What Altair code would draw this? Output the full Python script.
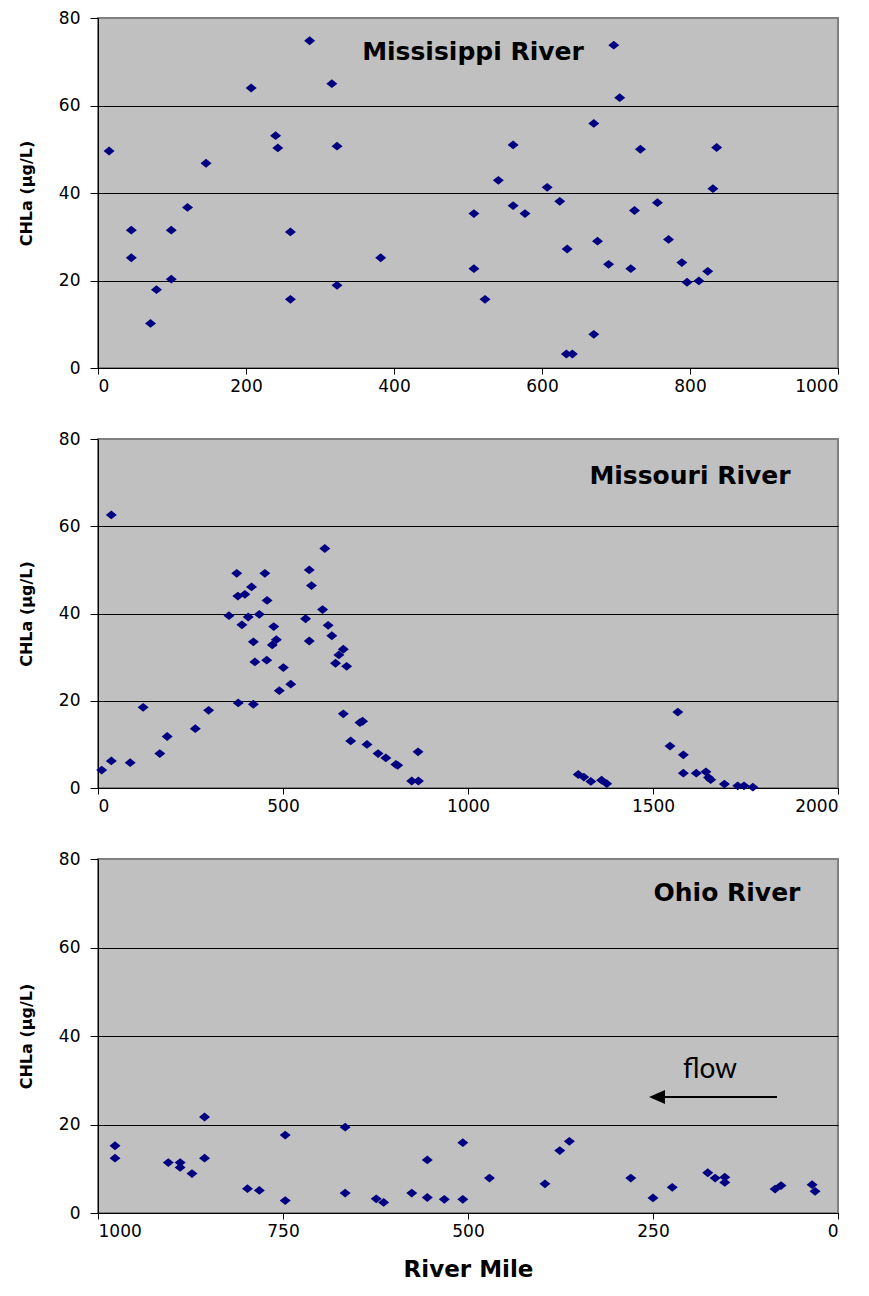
import altair as alt
import pandas as pd

# ---------------- data ----------------
miss_mile = [15, 45, 45, 71, 79, 99, 99, 121, 146, 207, 240, 243, 260, 260, 286, 316, 323, 323, 382,
             508, 508, 523, 541, 561, 561, 577, 607, 624, 634, 633, 641, 670, 670, 675, 690, 697,
             705, 720, 725, 733, 756, 771, 789, 796, 812, 824, 831, 836]
miss_chla = [49.6, 31.5, 25.2, 10.2, 17.9, 31.5, 20.3, 36.7, 46.8, 64.0, 53.1, 50.3, 31.1, 15.7, 74.8,
             65.0, 50.7, 18.9, 25.2, 35.3, 22.7, 15.7, 42.9, 51.0, 37.1, 35.3, 41.3, 38.1, 27.2, 3.2,
             3.2, 55.9, 7.7, 29.0, 23.7, 73.8, 61.8, 22.7, 36.0, 50.0, 37.8, 29.4, 24.1, 19.6, 19.9,
             22.1, 41.0, 50.4]

mo_mile = [10, 36, 36, 87, 122, 167, 187, 263, 299, 354, 375, 379, 378, 397, 389, 406, 415, 420, 420,
           424, 436, 451, 457, 456, 475, 471, 482, 501, 490, 521, 561, 571, 577, 571, 613, 607, 622,
           632, 663, 651, 642, 672, 663, 683, 715, 708, 727, 757, 778, 805, 810, 848, 866, 865,
           1298, 1313, 1332, 1361, 1375, 1546, 1567, 1582, 1582, 1617, 1643, 1656, 1650, 1693, 1729,
           1746, 1770]
mo_chla = [4.1, 62.6, 6.2, 5.8, 18.5, 7.9, 11.8, 13.6, 17.8, 39.5, 49.2, 19.5, 44.0, 44.4, 37.4, 39.2,
           46.1, 33.5, 19.2, 28.9, 39.8, 49.2, 43.0, 29.3, 37.0, 32.8, 34.0, 27.6, 22.3, 23.8, 38.8,
           50.0, 46.4, 33.7, 54.9, 40.9, 37.3, 34.9, 31.8, 30.5, 28.6, 27.9, 17.0, 10.8, 15.3, 15.0,
           10.0, 7.9, 6.9, 5.4, 5.2, 1.6, 1.6, 8.3,
           3.1, 2.5, 1.5, 1.8, 1.0, 9.6, 17.4, 7.6, 3.4, 3.4, 3.7, 1.9, 2.4, 0.9, 0.5, 0.5, 0.2]

oh_mile = [977, 977, 905, 889, 889, 873, 856, 856, 798, 782, 747, 747, 666, 666, 624, 614, 576, 555,
           555, 532, 507, 507, 471, 396, 376, 363, 280, 250, 224, 176, 166, 153, 153, 85, 77, 35, 31]
oh_chla = [15.2, 12.4, 11.4, 11.4, 10.3, 8.9, 21.7, 12.4, 5.5, 5.1, 17.6, 2.8, 19.4, 4.5, 3.2, 2.4,
           4.5, 12.0, 3.5, 3.1, 3.1, 15.9, 7.9, 6.6, 14.1, 16.2, 7.9, 3.4, 5.8, 9.1, 7.9, 8.1, 6.9,
           5.4, 6.2, 6.4, 4.9]

panel_titles = ["Missisippi River", "Missouri River", "Ohio River"]
y_ticks = [0, 20, 40, 60, 80]
miss_xticks = [0, 200, 400, 600, 800, 1000]
mo_xticks = [0, 500, 1000, 1500, 2000]
oh_xticks = [0, 250, 500, 750, 1000]
y_title = "CHLa (µg/L)"
x_title = "River Mile"
flow_label = ["flow"]

# ---------------- styling ----------------
NAVY = "#000080"
DIAMOND = "M-1,0L0,-0.8L1,0L0,0.8Z"
ARROW = "M-1,0L1,-0.875L1,0.875Z"
FONT = "DejaVu Sans"
W = 740


def panel(xs, ys, domain, ticks, reverse, title, tx, ty, show_xtitle):
    df = pd.DataFrame({"mile": xs, "chla": ys})
    x_axis_kwargs = dict(
        values=ticks, grid=False, tickSize=6, labelPadding=4, labelFont=FONT,
        labelFontSize=17, labelColor="black", domainColor="black", tickColor="black",
        format="d",
    )
    if show_xtitle:
        x_axis_kwargs.update(title=x_title, titleFont=FONT, titleFontSize=23,
                             titleFontWeight="bold", titlePadding=19, titleColor="black")
    else:
        x_axis_kwargs.update(title=None)

    pts = alt.Chart(df).mark_point(
        shape=DIAMOND, filled=True, size=121, color=NAVY, opacity=1
    ).encode(
        x=alt.X("mile:Q", scale=alt.Scale(domain=domain, reverse=reverse, nice=False, zero=False),
                axis=alt.Axis(**x_axis_kwargs)),
        y=alt.Y("chla:Q", scale=alt.Scale(domain=[0, 80], nice=False),
                axis=alt.Axis(
                    values=y_ticks, title=y_title, grid=True,
                    gridColor={"condition": {"test": "datum.value === 80", "value": "#808080"},
                               "value": "black"},
                    gridOpacity=1, gridWidth=1, tickSize=8, labelPadding=10, labelFont=FONT,
                    labelFontSize=17, labelColor="black", domainColor="black", tickColor="black",
                    titleFont=FONT, titleFontSize=16, titleFontWeight="bold", titlePadding=24,
                    titleColor="black",
                )),
    )
    lab = alt.Chart(pd.DataFrame({"t": [title]})).mark_text(
        font=FONT, fontSize=25, fontWeight="bold", color="black", align="center", baseline="middle"
    ).encode(text="t:N", x=alt.value(tx), y=alt.value(ty))
    return [pts, lab]


p1 = alt.layer(*panel(miss_mile, miss_chla, [0, 1000], miss_xticks, False,
                      panel_titles[0], 375, 34, False)).properties(width=W, height=350)
p2 = alt.layer(*panel(mo_mile, mo_chla, [0, 2000], mo_xticks, False,
                      panel_titles[1], 592, 37, False)).properties(width=W, height=349)

layers3 = panel(oh_mile, oh_chla, [0, 1000], oh_xticks, True, panel_titles[2], 629, 34, True)
one = pd.DataFrame({"t": flow_label})
flow_txt = alt.Chart(one).mark_text(
    font="Lato", fontSize=28, color="black", align="center", baseline="middle"
).encode(text="t:N", x=alt.value(612), y=alt.value(211))
flow_line = alt.Chart(one).mark_rule(color="black", strokeWidth=2).encode(
    x=alt.value(566), x2=alt.value(679), y=alt.value(238))
flow_head = alt.Chart(one).mark_point(
    shape=ARROW, filled=True, size=256, color="black", opacity=1
).encode(x=alt.value(559), y=alt.value(238))
p3 = alt.layer(*layers3, flow_line, flow_head, flow_txt).properties(width=W, height=354)

chart = alt.vconcat(p1, p2, p3, spacing=34).properties(
    padding={"left": 9, "top": 0, "right": 5, "bottom": 5},
    background="white",
).configure_view(
    fill="#C0C0C0", stroke="#808080", strokeWidth=2
)

chart.save("out.html", embed_options={"renderer": "svg", "actions": False})
